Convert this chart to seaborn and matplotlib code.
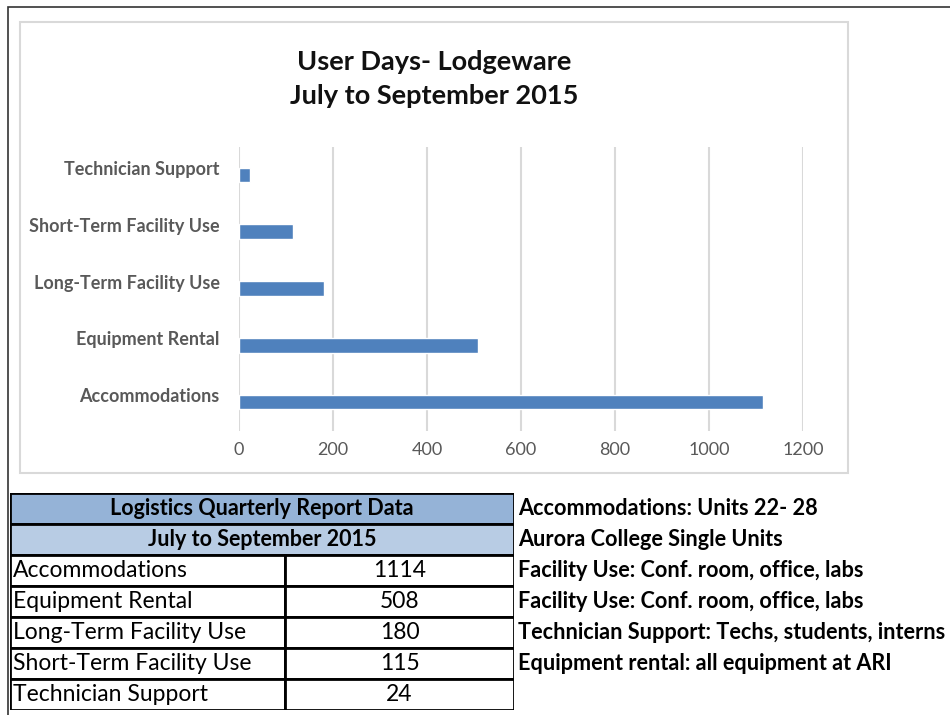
import seaborn as sns
import matplotlib.pyplot as plt
import matplotlib.patches as mpatches
import matplotlib.transforms as mtrans
import pandas as pd

# data
categories = ["Accommodations", "Equipment Rental", "Long-Term Facility Use",
              "Short-Term Facility Use", "Technician Support"]
user_days = [1114, 508, 180, 115, 24]
x_ticks = [0, 200, 400, 600, 800, 1000, 1200]

chart_title = "User Days- Lodgeware\nJuly to September 2015"
table_title = "Logistics Quarterly Report Data"
table_period = "July to September 2015"
notes = ["Accommodations: Units 22- 28",
         "Aurora College Single Units",
         "Facility Use: Conf. room, office, labs",
         "Facility Use: Conf. room, office, labs",
         "Technician Support: Techs, students, interns",
         "Equipment rental: all equipment at ARI"]

W, H = 950, 715
FONT = ["Lato", "DejaVu Sans"]
GREY = "#595959"


def fx(px):
    return px / W


def fy(py):
    return 1 - py / H


sns.set_style("white")
plt.rcParams["font.family"] = FONT

fig = plt.figure(figsize=(W / 100, H / 100), dpi=100)

# outer page border (left + top) and chart frame
fig.add_artist(mpatches.Rectangle((fx(8), fy(760)), fx(1000), (760 - 7) / H,
                                  transform=fig.transFigure, fill=False,
                                  edgecolor="#333333", lw=1.2))
fig.add_artist(mpatches.Rectangle((fx(20), fy(473)), fx(828), (473 - 22) / H,
                                  transform=fig.transFigure, fill=False,
                                  edgecolor="#d9d9d9", lw=1.5))

# bar chart
df = pd.DataFrame({"category": categories, "days": user_days})
ax = fig.add_axes([fx(239), fy(430.5), fx(803 - 239), (430.5 - 146.5) / H])
sns.barplot(data=df, x="days", y="category", order=categories[::-1],
            color="#4f81bd", saturation=1, width=0.26, ax=ax)
ax.set_xlim(0, 1200)
ax.set_xticks(x_ticks)
ax.set_xlabel("")
ax.set_ylabel("")
ax.grid(axis="x", color="#d9d9d9", lw=1.5)
ax.set_axisbelow(True)
for s in ax.spines.values():
    s.set_visible(False)
ax.tick_params(axis="x", length=0, pad=8, labelsize=13, labelcolor=GREY)
ax.tick_params(axis="y", length=0, pad=14, labelsize=13, labelcolor=GREY)
shift = mtrans.ScaledTranslation(0, 7 / 100, fig.dpi_scale_trans)
for lbl in ax.get_yticklabels():
    lbl.set_fontweight("bold")
    lbl.set_transform(lbl.get_transform() + shift)

fig.text(fx(434), fy(79), chart_title, ha="center", va="center",
         fontsize=19.5, fontweight="bold", color="#111111", linespacing=1.5)

# data table
tx0, tx1, tsplit = 10, 514, 285
ty0, row_h = 493, 31
n_rows = 2 + len(categories)
tab = fig.add_axes([fx(tx0), fy(ty0 + n_rows * row_h), fx(tx1 - tx0), n_rows * row_h / H])
tab.set_xlim(tx0, tx1)
tab.set_ylim(n_rows, 0)
tab.axis("off")

header_colors = ["#95b3d7", "#b8cce4"]
for i, (txt, col) in enumerate(zip([table_title, table_period], header_colors)):
    tab.add_patch(mpatches.Rectangle((tx0, i), tx1 - tx0, 1, facecolor=col,
                                     edgecolor="black", lw=2))
    tab.text((tx0 + tx1) / 2, i + 0.5, txt, ha="center", va="center",
             fontsize=15.5, fontweight="bold", color="black")
for j, (cat, val) in enumerate(zip(categories, user_days)):
    r = 2 + j
    tab.add_patch(mpatches.Rectangle((tx0, r), tsplit - tx0, 1, facecolor="white",
                                     edgecolor="black", lw=2))
    tab.add_patch(mpatches.Rectangle((tsplit, r), tx1 - tsplit, 1, facecolor="white",
                                     edgecolor="black", lw=2))
    tab.text(tx0 + 3, r + 0.5, cat, ha="left", va="center", fontsize=16.5, color="black")
    tab.text((tsplit + tx1) / 2, r + 0.5, str(val), ha="center", va="center",
             fontsize=16.5, color="black")

# notes beside the table
for k, note in enumerate(notes):
    fig.text(fx(518), fy(ty0 + (k + 0.5) * row_h), note, ha="left", va="center",
             fontsize=15.6, fontweight="bold", color="black")

fig.savefig("out.png", dpi=100)
